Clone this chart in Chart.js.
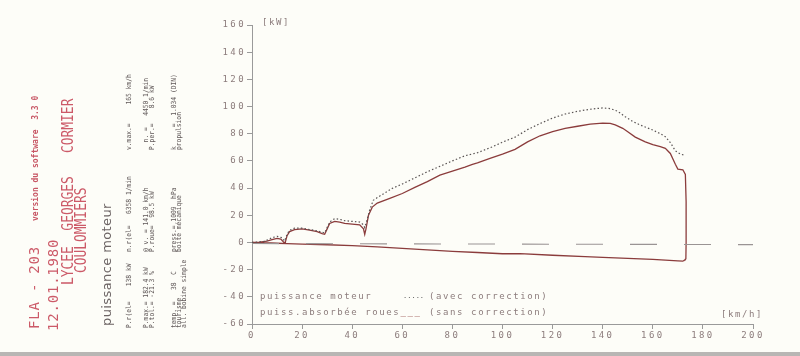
<!DOCTYPE html>
<html><head><meta charset="utf-8">
<script src="https://cdn.jsdelivr.net/npm/chart.js@4.4.0/dist/chart.umd.min.js"></script>
<style>
html,body{margin:0;padding:0;background:#fdfdf8;width:800px;height:356px;overflow:hidden;}
body{position:relative;font-family:"DejaVu Sans Mono",monospace;}
#c{position:absolute;left:0;top:0;}
.r{position:absolute;white-space:pre;transform-origin:0 0;line-height:1;}
.t{position:absolute;white-space:pre;line-height:1;font-size:9px;color:#8c7c7c;letter-spacing:1.6px;}
.big{font-size:14px;color:#cc5a68;letter-spacing:0.8px;transform:rotate(-90deg);}
.lyc{font-size:15px;color:#cc5a68;letter-spacing:0px;transform:rotate(-90deg) scaleX(0.86);}
.ver{font-size:8px;color:#c85866;font-weight:bold;transform:rotate(-90deg);}
.pm{font-family:"DejaVu Sans",sans-serif;font-size:13px;color:#6c6464;letter-spacing:0.4px;transform:rotate(-90deg);}
.inf{font-size:7px;color:#5e5656;transform:rotate(-90deg) scaleX(0.9);}
#edge{position:absolute;left:0;top:352px;width:800px;height:4px;background:#b8b6b4;}
</style></head><body>
<canvas id="c" width="800" height="356"></canvas>

<div class="r big" style="left:27px;top:329px">FLA - 203</div>
<div class="r ver" style="left:32px;top:221px">version du software  3.3 0</div>
<div class="r big" style="left:46px;top:331px">12.01.1980</div>
<div class="r lyc" style="left:61px;top:285px">LYCEE  GEORGES   CORMIER</div>
<div class="r lyc" style="left:74px;top:273px">COULOMMIERS</div>
<div class="r pm" style="left:100px;top:326px">puissance moteur</div>

<div class="r inf" style="left:126px;top:328px">P.r(el=    138 kW</div>
<div class="r inf" style="left:126px;top:252px">n.r(el=   6358 1/min</div>
<div class="r inf" style="left:126px;top:150px">v.max.=     165 km/h</div>

<div class="r inf" style="left:143px;top:328px">P.max.= 182.4 kW</div>
<div class="r inf" style="left:149px;top:328px">P.tol.= -21.3 %</div>
<div class="r inf" style="left:143px;top:252px">@ v. = 141.0 km/h</div>
<div class="r inf" style="left:149px;top:252px">P.roue=  98.5 kW</div>
<div class="r inf" style="left:143px;top:150px">  n. =   4450 1/min</div>
<div class="r inf" style="left:149px;top:150px">P.per.=    8.6 kW</div>

<div class="r inf" style="left:171px;top:328px">temp. =   38  C</div>
<div class="r inf" style="left:176px;top:328px">tourisme</div>
<div class="r inf" style="left:181px;top:328px">all. bobine simple</div>
<div class="r inf" style="left:171px;top:252px">press.= 1009  hPa</div>
<div class="r inf" style="left:176px;top:252px">boite mécanique</div>
<div class="r inf" style="left:171px;top:150px">k     =  1.034 (DIN)</div>
<div class="r inf" style="left:176px;top:150px">propulsion</div>

<div class="t" style="left:262px;top:18px">[kW]</div>
<div class="t" style="left:721px;top:310px">[km/h]</div>
<div class="t" style="left:260px;top:292px">puissance moteur</div>
<div class="t" style="left:403px;top:293px;color:#555;font-size:7px;letter-spacing:0">.....</div>
<div class="t" style="left:429px;top:292px">(avec correction)</div>
<div class="t" style="left:260px;top:308px">puiss.absorbée roues<span style="color:#8b3c3c">___</span></div>
<div class="t" style="left:429px;top:308px">(sans correction)</div>
<div id="edge"></div>

<script>
// axis tick labels
const xTicks = [0, 20, 40, 60, 80, 100, 120, 140, 160, 180, 200];
const yTicks = [-60, -40, -20, 0, 20, 40, 60, 80, 100, 120, 140, 160];

// puissance (sans correction) - run-up, km/h and kW
const upSpeed = [0,3,6,8,10,11.5,12.5,13.2,14,15,17,20,23,26,28,29,30,31,33,35,37,40,43,44.5,45,45.5,46.5,48,50,55,60,65,70,75,80,85,88,90,95,100,105,110,115,120,125,130,135,140,143,145,148,150,153,157,160,163,165,167,169,170,172,173,173.3,173.3,173.2];
const upPower = [0,0.3,1,2,3,2.5,0.5,-0.5,5,8,9.5,10,9,8,6.5,6,10,14,15.5,15,14,13.5,13,10,6,10,20,26,29,32.5,36,40.5,44.8,49.5,52.5,55.5,57.5,58.6,61.8,65,68.5,74,78.5,81.5,84,85.5,87,87.8,87.6,86.5,84,81.5,77.5,74,72,70.5,69.3,65.5,57.5,54,53.5,50,30,0,-12];

// puissance absorbée - run-down (back to 0)
const downSpeed = [173,172,170,160,150,140,133,120,107,100,90,80,70,60,50,40,30,20,14,10,5,0];
const downPower = [-12.5,-13.8,-13.6,-12.4,-11.7,-11,-10.4,-9.4,-8.2,-8.3,-7.4,-6.5,-5.5,-4.3,-3.2,-2.3,-1.7,-1.2,-0.9,-0.6,-0.2,0];

// puissance moteur (avec correction)
const corSpeed = [0,5,8,10,12,13,14,15,17,20,23,26,28,29,30,31,33,35,37,40,43,44.5,45,46,47,48.4,50,56,60,65,70,75,80,85,90,96,100,105,110,115,120,125,130,135,140,143,146,149,152,155,160,163,165,167,169,171,173];
const corPower = [0,0.8,3.5,4.5,3.5,1,6,9,10.5,10.5,9.5,8.5,7.5,7,11,15,17.5,17,16,15.5,15,13,11,17,24,31,33,39.8,43,47.5,52,56,60,63.8,66,70.4,73.8,77.5,83,87.5,91.5,94.5,96.5,98,99,98.5,96.5,92.5,89,86.4,82.7,80,77.8,73.5,67.5,65,64];

// reference line (long dashes)
const refSpeed = [0, 200];
const refPower = [-0.8, -1.6];

const pts = (xs, ys) => xs.map((x, i) => ({x, y: ys[i]}));

const spacingPlugin = {
  id: 'spacing',
  beforeDraw(chart) { chart.ctx.letterSpacing = '2.4px'; }
};

new Chart(document.getElementById('c'), {
  type: 'scatter',
  data: {
    datasets: [
      {label: 'référence', data: pts(refSpeed, refPower), showLine: true, borderColor: '#9a9494', borderWidth: 1.1, borderDash: [27, 27], pointRadius: 0},
      {label: 'puissance moteur (avec correction)', data: pts(corSpeed, corPower), showLine: true, borderColor: '#5a5454', borderWidth: 1.2, borderDash: [1.5, 2.2], pointRadius: 0, tension: 0},
      {label: 'puiss.absorbée roues (sans correction)', data: pts(upSpeed, upPower).concat(pts(downSpeed, downPower)), showLine: true, borderColor: '#8b3c3c', borderWidth: 1.3, pointRadius: 0, tension: 0}
    ]
  },
  options: {
    responsive: false,
    animation: false,
    events: [],
    layout: {padding: {left: 0, right: 47, top: 25, bottom: 0}},
    plugins: {legend: {display: false}, tooltip: {enabled: false}},
    scales: {
      x: {
        type: 'linear', min: 0, max: 200,
        afterBuildTicks: s => { s.ticks = xTicks.map(v => ({value: v})); },
        afterFit: s => { s.height = 32; },
        ticks: {color: '#8c7c7c', font: {family: 'DejaVu Sans Mono', size: 9}, padding: 1, maxRotation: 0, autoSkip: false},
        grid: {drawOnChartArea: false, tickLength: 5, color: '#9a9a9a'},
        border: {color: '#9a9a9a', width: 1}
      },
      y: {
        min: -60, max: 160,
        afterBuildTicks: s => { s.ticks = yTicks.map(v => ({value: v})); },
        afterFit: s => { s.width = 252; },
        ticks: {color: '#8c7c7c', font: {family: 'DejaVu Sans Mono', size: 9}, padding: 1, autoSkip: false},
        grid: {drawOnChartArea: false, tickLength: 5, color: '#9a9a9a'},
        border: {color: '#9a9a9a', width: 1}
      }
    }
  },
  plugins: [spacingPlugin]
});
</script>
</body></html>
